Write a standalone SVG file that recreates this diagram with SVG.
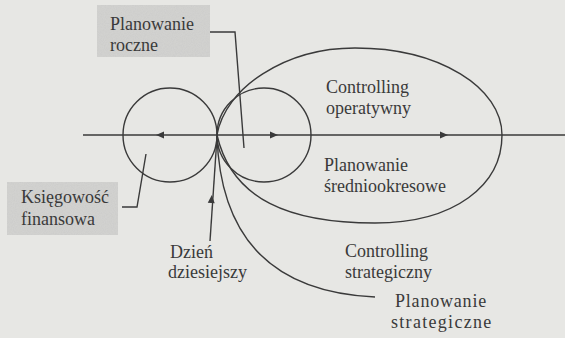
<svg xmlns="http://www.w3.org/2000/svg" width="565" height="338" viewBox="0 0 565 338">
<style>
text{font-family:'Liberation Serif','DejaVu Serif',serif;font-size:18px;fill:#3a3a3a}
.ln{fill:none;stroke:#3a3a3a;stroke-width:1.4}
.box{fill:#d4d4d2}
.ah{fill:#3a3a3a}
</style>
<defs>
<path id="ahR" class="ah" d="M0,0 L-8,-3.5 L-8,3.5 Z"/>
<filter id="grain" x="0" y="0" width="1" height="1">
<feTurbulence type="fractalNoise" baseFrequency="0.9" numOctaves="2" seed="3" result="n"/>
<feColorMatrix in="n" type="matrix" values="0 0 0 0 0.5  0 0 0 0 0.5  0 0 0 0 0.5  0 0 0 0.35 0" result="g"/>
<feComposite in="g" in2="SourceGraphic" operator="in" result="gg"/>
<feMerge><feMergeNode in="SourceGraphic"/><feMergeNode in="gg"/></feMerge>
</filter>
</defs>
<rect width="565" height="338" fill="#e7e7e4"/>

<g id="shapes">
<circle id="circle-left" class="ln" cx="170" cy="135" r="47"/>
<circle id="circle-right" class="ln" cx="264" cy="135" r="47"/>
<path id="ellipse" class="ln" d="M217,135 C225,88 285,48 355,48 C440,48 502,88 502,135 C502,185 455,223 375,223 C290,223 232,200 217,135 Z"/>
</g>

<g id="connectors">
<line class="ln" x1="83" y1="135" x2="565" y2="135"/>
<use href="#ahR" transform="translate(156,135) rotate(180)"/>
<use href="#ahR" transform="translate(278,135)"/>
<use href="#ahR" transform="translate(448,135)"/>
<path class="ln" d="M217,136 C220,230 265,292 375,297"/>
<path class="ln" d="M210,241 L217,137"/>
<use href="#ahR" transform="translate(211.8,195) rotate(-86)"/>
<path class="ln" d="M208,32 L235,32 L244,148"/>
<path class="ln" d="M122,207 L137,207 L146,154"/>
</g>

<g font-family="Liberation Serif, serif" font-size="18">
<g id="node-planowanie-roczne">
<rect class="box" x="97" y="5" width="113" height="52" filter="url(#grain)"/>
<text x="110" y="30">Planowanie</text>
<text x="110" y="51">roczne</text>
</g>

<g id="node-ksiegowosc">
<rect class="box" x="7" y="182" width="111" height="53" filter="url(#grain)"/>
<text x="21" y="203">Księgowość</text>
<text x="21" y="225">finansowa</text>
</g>

<g id="node-controlling-operatywny">
<text x="326" y="93">Controlling</text>
<text x="326" y="114">operatywny</text>
</g>

<g id="node-planowanie-srednio">
<text x="324" y="171">Planowanie</text>
<text x="324" y="192">średniookresowe</text>
</g>

<g id="node-controlling-strategiczny">
<text x="345" y="257">Controlling</text>
<text x="345" y="278">strategiczny</text>
</g>

<g id="node-planowanie-strategiczne">
<text x="395" y="307" letter-spacing="0.8">Planowanie</text>
<text x="391" y="328" letter-spacing="1.3">strategiczne</text>
</g>

<g id="node-dzien">
<text x="170" y="258">Dzień</text>
<text x="168" y="278">dziesiejszy</text>
</g>
</g>
</svg>
